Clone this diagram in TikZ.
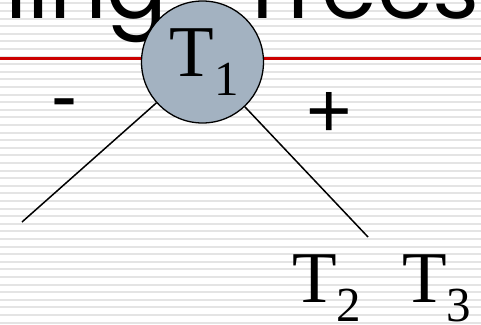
\documentclass[tikz,border=0pt]{standalone}
\usepackage{fontspec}
\setmainfont{Liberation Serif}
\newfontfamily\titlefont{Poppins}
\newfontfamily\signfont{Liberation Sans}
\definecolor{stripegray}{HTML}{E4E4E4}
\definecolor{rulered}{HTML}{CC0000}
\definecolor{nodefill}{HTML}{A3B2C1}
\tikzset{
  stripe/.style={fill=stripegray},
  redrule/.style={draw=rulered, line width=2.4pt},
  titletext/.style={inner sep=0pt, font=\titlefont\fontsize{90}{90}\selectfont},
  treenode/.style={circle, draw=black, line width=1.3pt, fill=nodefill, minimum size=122pt, inner sep=0pt},
  bigtext/.style={inner sep=0pt, font=\fontsize{73}{73}\selectfont},
  signtext/.style={inner sep=0pt, font=\signfont\fontsize{78}{78}\selectfont},
  edge/.style={draw=black, line width=1.5pt}
}
\newcommand{\subdig}[1]{\raisebox{-19pt}{\fontsize{49}{49}\selectfont #1}}
\begin{document}
\begin{tikzpicture}[x=1pt,y=-1pt]
\useasboundingbox (0,0) rectangle (481,324);
\clip (0,0) rectangle (481,324);
\fill[white] (0,0) rectangle (481,324);
\foreach \k in {0,...,42} {
  \fill[stripe] (0,{2.4+7.6*\k}) rectangle (481,{4.4+7.6*\k});
}
\node[titletext, anchor=base east] (titleA) at (168,18) {Spanning};
\node[titletext, anchor=base east] (titleB) at (480,18) {Trees};
\draw[redrule] (0,58.5) -- (481,58.5);
\coordinate (L) at (22,222);
\coordinate (R) at (368,237);
\node[treenode] (T1) at (202.5,62) {};
\draw[edge] (T1) -- (L);
\draw[edge] (T1) -- (R);
\node[treenode, draw=none, fill=none] (T1lbl) at (204.5,62) {\fontsize{73}{73}\selectfont T\subdig{1}};
\node[signtext, anchor=base] (minus) at (64.5,122) {-};
\node[signtext, anchor=base] (plus) at (329,137) {+};
\node[bigtext, anchor=base west] (T2) at (292,302) {T\subdig{2}};
\node[bigtext, anchor=base west] (T3) at (402,302) {T\subdig{3}};
\end{tikzpicture}
\end{document}
